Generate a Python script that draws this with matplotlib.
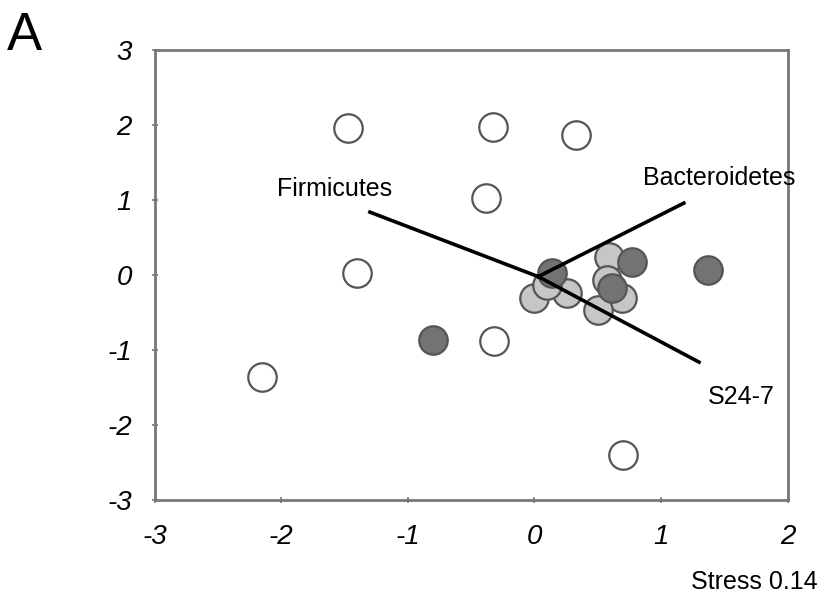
import matplotlib.pyplot as plt
import numpy as np

# NMDS scores per sample group
white_x = [-1.47, -0.33, 0.33, -0.38, -1.40, -0.32, -2.15, 0.70]
white_y = [1.96, 1.97, 1.87, 1.03, 0.03, -0.88, -1.36, -2.40]

light_x = [0.59, 0.00, 0.26, 0.57, 0.69, 0.50, 0.10]
light_y = [0.24, -0.31, -0.24, -0.07, -0.31, -0.47, -0.13]

dark_x = [-0.80, 1.37, 0.77, 0.14, 0.61]
dark_y = [-0.87, 0.07, 0.17, 0.03, -0.17]

# taxa vectors (end points)
taxa = ["Firmicutes", "Bacteroidetes", "S24-7"]
vec_x = [-1.30, 1.18, 1.30]
vec_y = [0.84, 0.96, -1.16]
origin = (0.03, -0.02)

ticks_x = [-3, -2, -1, 0, 1, 2]
ticks_y = [-3, -2, -1, 0, 1, 2, 3]

plt.rcParams["font.family"] = ["Liberation Sans", "DejaVu Sans"]

fig = plt.figure(figsize=(8.23, 6.04), dpi=100)
ax = fig.add_axes([0.188, 0.172, 0.769, 0.745])

edge = "#555555"
ax.scatter(white_x, white_y, s=420, c="white", edgecolors=edge, linewidths=1.6, zorder=3)
ax.scatter(light_x, light_y, s=420, c="#c6c6c6", edgecolors=edge, linewidths=1.6, zorder=3)
ax.scatter(dark_x, dark_y, s=420, c="#737373", edgecolors=edge, linewidths=1.6, zorder=4)

for x, y in zip(vec_x, vec_y):
    ax.plot([origin[0], x], [origin[1], y], color="black", lw=2.6, zorder=5)

lab_kw = dict(fontsize=18, ha="center", va="center")
ax.text(-1.58, 1.15, taxa[0], **lab_kw)
ax.text(1.46, 1.29, taxa[1], **lab_kw)
ax.text(1.63, -1.62, taxa[2], **lab_kw)

ax.set_xlim(-3, 2)
ax.set_ylim(-3, 3)
ax.set_xticks(ticks_x)
ax.set_yticks(ticks_y)
ax.set_xticklabels([str(t) for t in ticks_x], fontstyle="italic", fontsize=20)
ax.set_yticklabels([str(t) for t in ticks_y], fontstyle="italic", fontsize=20)
ax.tick_params(length=5, width=1.2, color="#777777", direction="inout")
ax.tick_params(axis="x", pad=15)
ax.tick_params(axis="y", pad=14)

for sp in ax.spines.values():
    sp.set_color("#777777")
    sp.set_linewidth(2)

fig.text(0.993, 0.037, "Stress 0.14", fontsize=18, ha="right", va="center")
fig.text(0.008, 0.94, "A", fontsize=38, ha="left", va="center")

fig.savefig("out.png", dpi=100)
